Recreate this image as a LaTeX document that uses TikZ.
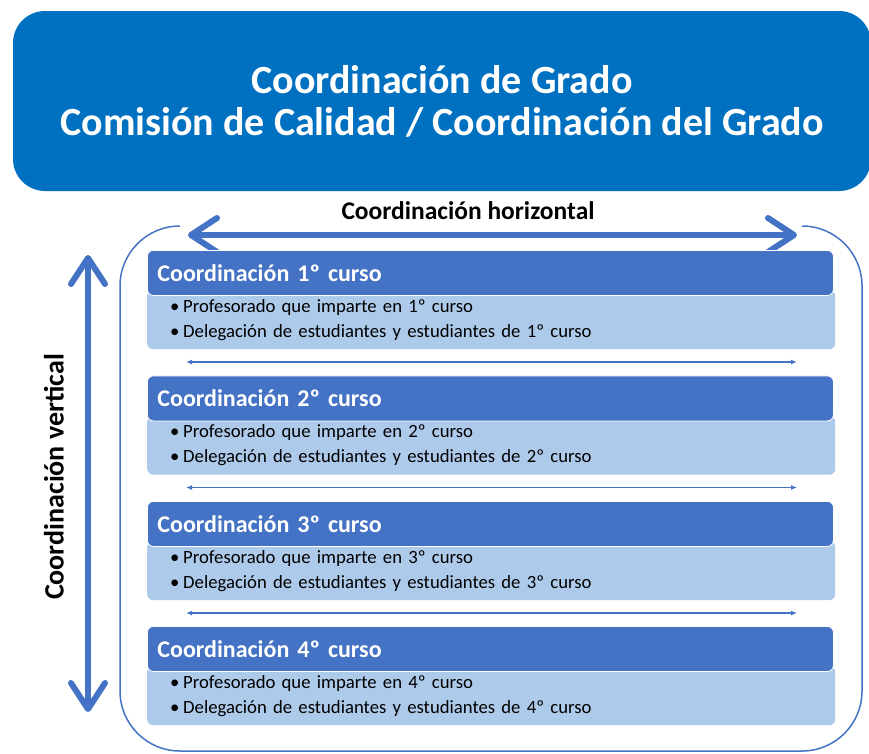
\documentclass[tikz,border=0pt]{standalone}
\usepackage{fontspec}
\setmainfont{Carlito}
\usetikzlibrary{arrows.meta,positioning}
\definecolor{titulo}{RGB}{0,112,192}
\definecolor{azul}{RGB}{68,114,196}
\definecolor{celeste}{RGB}{174,202,234}
\begin{document}
\begin{tikzpicture}[x=1pt,y=1pt,
    cajatitulo/.style={fill=titulo,rounded corners=32pt,minimum width=858pt,minimum height=180pt,
      align=center,text=white,font=\fontsize{40}{42}\selectfont\bfseries},
    etiqueta/.style={font=\fontsize{25.5}{30}\selectfont\bfseries},
    cabecera/.style={draw=white,line width=0.8pt,fill=azul,rounded corners=6pt,anchor=north west,
      minimum width=686pt,minimum height=45pt,text width=666pt,align=left,inner xsep=10pt,
      text=white,font=\fontsize{24}{28}\selectfont\bfseries},
    cuerpo/.style={fill=celeste,rounded corners=6pt,anchor=north west,minimum width=686pt,
      minimum height=59pt,text width=642pt,align=left,inner xsep=23pt,
      font=\fontsize{18.7}{25}\selectfont},
    flechagrande/.style={azul,line width=6pt,line cap=round,
      {Straight Barb[length=26pt,width=34pt,round]}-{Straight Barb[length=26pt,width=34pt,round]}},
    flechita/.style={azul,line width=1.2pt,{Latex[length=6pt,width=5pt]}-{Latex[length=6pt,width=5pt]}}]
  \useasboundingbox (0,0) rectangle (869,-753);
  % Titulo
  \node[cajatitulo] (titulo) at (442,-101) {Coordinación de Grado\\Comisión de Calidad / Coordinación del Grado};
  % Marco
  \draw[azul,line width=1.5pt,rounded corners=60pt] (180,-226) -- (120,-226) -- (120,-751)
    -- (862,-751) -- (862,-226) -- (802,-226);
  % Flechas grandes
  \node[etiqueta] (horizontal) at (468,-211) {Coordinación horizontal};
  \node[etiqueta,rotate=90,font=\fontsize{28}{32}\selectfont\bfseries] (vertical) at (54,-477) {Coordinación vertical};
  \coordinate (hizq) at (188,-235);
  \coordinate (hder) at (797,-235);
  \coordinate (varr) at (88,-255);
  \coordinate (vabj) at (88,-712);
  \draw[flechagrande] (hizq) -- (hder);
  \draw[flechagrande] (varr) -- (vabj);
  % Cursos
  \foreach \n/\y in {1/250,2/375.5,3/501,4/626}{
    \node[cuerpo] (cuerpo\n) at (147,-\y-40)
      {\makebox[13pt][l]{•}Profesorado que imparte en \n º curso\\
       \makebox[13pt][l]{•}Delegación de estudiantes y estudiantes de \n º curso};
    \node[cabecera] (curso\n) at (147,-\y) {Coordinación \n º curso};
  }
  \foreach \n/\y in {1/250,2/375.5,3/501}{
    \coordinate (izq\n) at (186,-\y-112);
    \coordinate (der\n) at (797,-\y-112);
    \draw[flechita] (izq\n) -- (der\n);
  }
\end{tikzpicture}
\end{document}
